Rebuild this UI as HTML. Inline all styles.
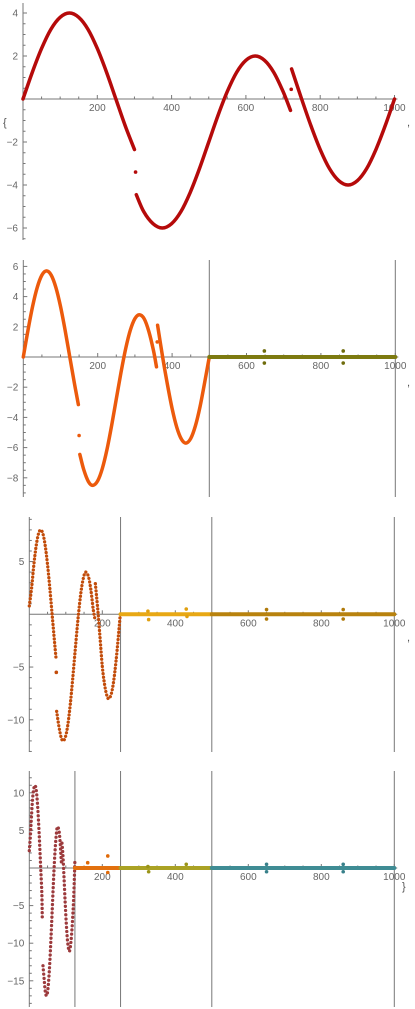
<!DOCTYPE html>
<html><head><meta charset="utf-8"><style>
html,body{margin:0;padding:0;background:#fff;}
svg{display:block;font-family:"Liberation Sans",sans-serif;}
</style></head><body>
<svg id="chart" width="415" height="1009" viewBox="0 0 415 1009" xmlns="http://www.w3.org/2000/svg">
<text x="3" y="126" font-size="11" fill="#555">{</text>
<text x="407" y="126" font-size="11" fill="#555">,</text>
<text x="407" y="386" font-size="11" fill="#555">,</text>
<text x="407" y="641" font-size="11" fill="#555">,</text>
<text x="402" y="890" font-size="11" fill="#555">}</text>
</svg>
<script>
// ---- Plot 1 data ----
const p1aX=[0,25,50,75,100,125,150,175,200,225,250,275,300];
const p1aY=[0,1.24,2.35,3.24,3.8,4,3.8,3.24,2.35,1.24,0,-1.24,-2.35];
const p1bX=[305,325,350,375,400,425,450,475,500,525,550,575,600,625,650,675,700,720];
const p1bY=[-4.45,-5.24,-5.8,-6,-5.8,-5.24,-4.35,-3.24,-2,-0.76,0.35,1.24,1.8,2,1.8,1.24,0.35,-0.53];
const p1cX=[723,750,775,800,825,850,875,900,925,950,975,1000];
const p1cY=[1.4,0,-1.24,-2.35,-3.24,-3.8,-4,-3.8,-3.24,-2.35,-1.24,0];
const p1outX=[303,722];
const p1outY=[-3.4,0.45];
// ---- Plot 2 data ----
const p2aX=[0,12.5,25,37.5,50,62.5,75,87.5,100,112.5,125,137.5,148];
const p2aY=[0,1.76,3.35,4.61,5.42,5.7,5.42,4.61,3.35,1.76,0,-1.76,-3.15];
const p2bX=[152,162.5,175,187,200,212.5,225,237.5,250,262.5,275,287.5,300,312,325,337.5,350,358];
const p2bY=[-6.45,-7.46,-8.25,-8.5,-8.2,-7.38,-6.12,-4.53,-2.78,-1.04,0.53,1.76,2.54,2.8,2.53,1.69,0.42,-0.65];
const p2cX=[361,375,387.5,400,412.5,425,437,450,462.5,475,487.5,500];
const p2cY=[2.1,-0.07,-1.83,-3.41,-4.65,-5.44,-5.7,-5.4,-4.57,-3.3,-1.69,0];
const p2outX=[150,360];
const p2outY=[-5.2,1.0];
const p2zX=[500,1000];
const p2zY=[0,0];
const p2zoutX=[648,648,860,860];
const p2zoutY=[0.4,-0.4,0.4,-0.4];
// ---- Plot 3 data ----
const p3aX=[0,6.25,12.5,18.75,25,31.25,37.5,43.75,50,56.25,62.5,68.75,73];
const p3aY=[0.8,2.47,4.7,6.47,7.61,8,7.61,6.47,4.7,2.47,0,-2.47,-4.1];
const p3bX=[75,81.25,87.5,93,100,106.25,112.5,118.75,125,131.25,137.5,143.75,150,155,162.5,168.75,175,180];
const p3bY=[-9.2,-10.65,-11.7,-12,-11.5,-10.3,-8.46,-6.18,-3.7,-1.24,0.94,2.64,3.69,4,3.52,2.3,0.5,-0.5];
const p3cX=[181,187.5,193.75,200,206.25,212.5,218,225,231.25,237.5,243.75,250];
const p3cY=[2.9,0.5,-2.2,-4.94,-6.65,-7.7,-8,-7.5,-6.3,-4.46,-2.2,0.3];
const p3outX=[74];
const p3outY=[-5.5];
const p3gX=[250,500];
const p3gY=[0,0];
const p3goutX=[325,327,430,432];
const p3goutY=[0.3,-0.5,0.5,-0.2];
const p3hX=[500,1000];
const p3hY=[0,0];
const p3houtX=[650,650,860,860];
const p3houtY=[0.45,-0.45,0.45,-0.45];
// ---- Plot 4 data ----
const p4aX=[0,3.125,6.25,9.375,12.5,15.6,18.75,21.875,25,28.125,31.25,34.375,35.6];
const p4aY=[2.3,4.4,7.1,9.4,10.6,11,10.46,8.9,6.47,3.4,0,-3.4,-6.8];
const p4bX=[37.5,40.6,43.75,47,50,53.1,56.25,59.4,62.5,65.6,68.75,71.9,75,77,81.25,84.4,87.5,89];
const p4bY=[-13,-14.75,-16.4,-17,-16.5,-14.95,-12.48,-9.33,-5.9,-2.43,0.75,3.25,4.9,5.5,4.99,3.47,1.0,0.5];
const p4cX=[89.5,92,95,98,101,104,107,109.6,112.5,115.6,118.75,121.9,125];
const p4cY=[3.3,1.8,-1.1,-4.3,-7.1,-9.3,-10.6,-11.1,-10.5,-9,-6.7,-3.6,1.1];
const p4oX=[125,250];
const p4oY=[0,0];
const p4ooutX=[160,215,215];
const p4ooutY=[0.7,1.6,-0.6];
const p4gX=[250,500];
const p4gY=[0,0];
const p4goutX=[325,327,430];
const p4goutY=[0.2,-0.5,0.5];
const p4tX=[500,1000];
const p4tY=[0,0];
const p4toutX=[650,650,860,860];
const p4toutY=[0.5,-0.5,0.5,-0.5];

const xTickLabels=[200,400,600,800,1000];
const p1YLabels=[4,2,-2,-4,-6];
const p2YLabels=[6,4,2,-2,-4,-6,-8];
const p3YLabels=[5,-5,-10];
const p4YLabels=[10,5,-5,-10,-15];

const NS='http://www.w3.org/2000/svg';
const svg=document.getElementById('chart');
function mk(tag,attrs,parent){const e=document.createElementNS(NS,tag);for(const k in attrs)e.setAttribute(k,attrs[k]);(parent||svg).appendChild(e);return e;}

function smoothPath(P){
  if(P.length<3)return 'M'+P.map(p=>p[0].toFixed(2)+','+p[1].toFixed(2)).join(' L');
  let d='M'+P[0][0].toFixed(2)+','+P[0][1].toFixed(2);
  for(let i=0;i<P.length-1;i++){
    const p0=P[Math.max(0,i-1)],p1=P[i],p2=P[i+1],p3=P[Math.min(P.length-1,i+2)];
    const c1=[p1[0]+(p2[0]-p0[0])/6,p1[1]+(p2[1]-p0[1])/6];
    const c2=[p2[0]-(p3[0]-p1[0])/6,p2[1]-(p3[1]-p1[1])/6];
    d+=' C'+c1[0].toFixed(2)+','+c1[1].toFixed(2)+' '+c2[0].toFixed(2)+','+c2[1].toFixed(2)+' '+p2[0].toFixed(2)+','+p2[1].toFixed(2);
  }
  return d;
}

function panel(cfg){
  const g=mk('g',{});
  
  
  const sx=v=>cfg.x0+v*cfg.xs, sy=v=>cfg.y0-v*cfg.ys;
  const ax='#777';
  (cfg.vlines||[]).forEach(v=>{
    const l=mk('line',{x1:sx(v),x2:sx(v),y1:cfg.top,y2:cfg.bottom,stroke:'#777','stroke-width':1},g);
    
    
  });
  const xa=mk('line',{x1:cfg.x0,x2:sx(1008),y1:cfg.y0,y2:cfg.y0,stroke:ax,'stroke-width':1},g);
  
  
  const ya=mk('line',{x1:cfg.x0,x2:cfg.x0,y1:cfg.top,y2:cfg.bottom,stroke:ax,'stroke-width':1},g);
  
  
  for(let v=50;v<=1000;v+=50){const maj=v%200===0;mk('line',{x1:sx(v),x2:sx(v),y1:cfg.y0,y2:cfg.y0-(maj?4:2.5),stroke:ax,'stroke-width':1},g);}
  xTickLabels.forEach(v=>{
    const t=mk('text',{x:sx(v),y:cfg.y0+12,'font-size':10,fill:'#666','text-anchor':'middle'},g);
    t.textContent=v;
    
    
  });
  for(let v=-Math.floor((cfg.bottom-cfg.y0)/cfg.ys/cfg.minor)*cfg.minor;v<=(cfg.y0-cfg.top)/cfg.ys;v+=cfg.minor){
    const maj=Math.abs(v/cfg.major-Math.round(v/cfg.major))<1e-6;
    if(Math.abs(v)<1e-9)continue;
    mk('line',{x1:cfg.x0,x2:cfg.x0+(maj?4:2.5),y1:sy(v),y2:sy(v),stroke:ax,'stroke-width':1},g);
  }
  cfg.ylabels.forEach(v=>{
    const t=mk('text',{x:cfg.x0-5,y:sy(v)+3.5,'font-size':10,fill:'#666','text-anchor':'end'},g);
    t.textContent=v<0?'\u2212'+(-v):v;
    
    
  });
  cfg.series.forEach(s=>{
    if(s.line){
      const P=s.xs.map((x,i)=>[sx(x),sy(s.ys[i])]);
      const attrs={d:smoothPath(P),fill:'none',stroke:s.color,'stroke-width':s.w||3.5,'stroke-linejoin':'round','stroke-linecap':'round'};
      if(s.dash)attrs['stroke-dasharray']=s.dash;
      const p=mk('path',attrs,g);
      
      
    }
    if(s.dots){
      s.xs.forEach((x,i)=>{
        const c=mk('circle',{cx:sx(x),cy:sy(s.ys[i]),r:s.r||1.8,fill:s.color},g);
        
        
      });
    }
  });
}

panel({name:'plot-1',x0:23,xs:0.3715,y0:99,ys:21.5,top:3,bottom:240,minor:0.5,major:2,ylabels:p1YLabels,series:[
  {name:'series-1a',xs:p1aX,ys:p1aY,color:'#b50a0a',line:true},
  {name:'series-1b',xs:p1bX,ys:p1bY,color:'#b50a0a',line:true},
  {name:'series-1c',xs:p1cX,ys:p1cY,color:'#b50a0a',line:true},
  {name:'series-1-outlier',xs:p1outX,ys:p1outY,color:'#b50a0a',dots:true}]});

panel({name:'plot-2',x0:23.3,xs:0.372,y0:357,ys:15.1,top:260,bottom:497,minor:0.5,major:2,ylabels:p2YLabels,vlines:[500,1000],series:[
  {name:'series-2a',xs:p2aX,ys:p2aY,color:'#ec5a0c',line:true},
  {name:'series-2b',xs:p2bX,ys:p2bY,color:'#ec5a0c',line:true},
  {name:'series-2c',xs:p2cX,ys:p2cY,color:'#ec5a0c',line:true},
  {name:'series-2-outlier',xs:p2outX,ys:p2outY,color:'#ec5a0c',dots:true},
  {name:'series-2-zero',xs:p2zX,ys:p2zY,color:'#7d7a10',line:true,w:4},
  {name:'series-2-zero-outlier',xs:p2zoutX,ys:p2zoutY,color:'#6f6c0c',dots:true}]});

const d3='0.01 3.6';
panel({name:'plot-3',x0:29.3,xs:0.365,y0:614.3,ys:10.55,top:517,bottom:752,minor:1,major:5,ylabels:p3YLabels,vlines:[250,500,1000],series:[
  {name:'series-3a',xs:p3aX,ys:p3aY,color:'#c24c0a',line:true,w:3.3,dash:d3},
  {name:'series-3b',xs:p3bX,ys:p3bY,color:'#c24c0a',line:true,w:3.3,dash:d3},
  {name:'series-3c',xs:p3cX,ys:p3cY,color:'#c24c0a',line:true,w:3.3,dash:d3},
  {name:'series-3-outlier',xs:p3outX,ys:p3outY,color:'#c24c0a',dots:true},
  {name:'series-3-gold',xs:p3gX,ys:p3gY,color:'#e8a814',line:true,w:4},
  {name:'series-3-gold-outlier',xs:p3goutX,ys:p3goutY,color:'#e0a010',dots:true},
  {name:'series-3-brown',xs:p3hX,ys:p3hY,color:'#b8820e',line:true,w:4},
  {name:'series-3-brown-outlier',xs:p3houtX,ys:p3houtY,color:'#b07a0a',dots:true}]});

const d4='0.01 4.2';
panel({name:'plot-4',x0:29.3,xs:0.365,y0:868,ys:7.52,top:771,bottom:1007,minor:1,major:5,ylabels:p4YLabels,vlines:[125,250,500,1000],series:[
  {name:'series-4a',xs:p4aX,ys:p4aY,color:'#9c3a3c',line:true,w:3.3,dash:d4},
  {name:'series-4b',xs:p4bX,ys:p4bY,color:'#9c3a3c',line:true,w:3.3,dash:d4},
  {name:'series-4c',xs:p4cX,ys:p4cY,color:'#9c3a3c',line:true,w:3.3,dash:d4},
  {name:'series-4-orange',xs:p4oX,ys:p4oY,color:'#e2700e',line:true,w:4},
  {name:'series-4-orange-outlier',xs:p4ooutX,ys:p4ooutY,color:'#e06a08',dots:true},
  {name:'series-4-olive',xs:p4gX,ys:p4gY,color:'#aaa224',line:true,w:4},
  {name:'series-4-olive-outlier',xs:p4goutX,ys:p4goutY,color:'#9a9418',dots:true},
  {name:'series-4-teal',xs:p4tX,ys:p4tY,color:'#3f8c94',line:true,w:4},
  {name:'series-4-teal-outlier',xs:p4toutX,ys:p4toutY,color:'#38808a',dots:true}]});
</script>
</body></html>
